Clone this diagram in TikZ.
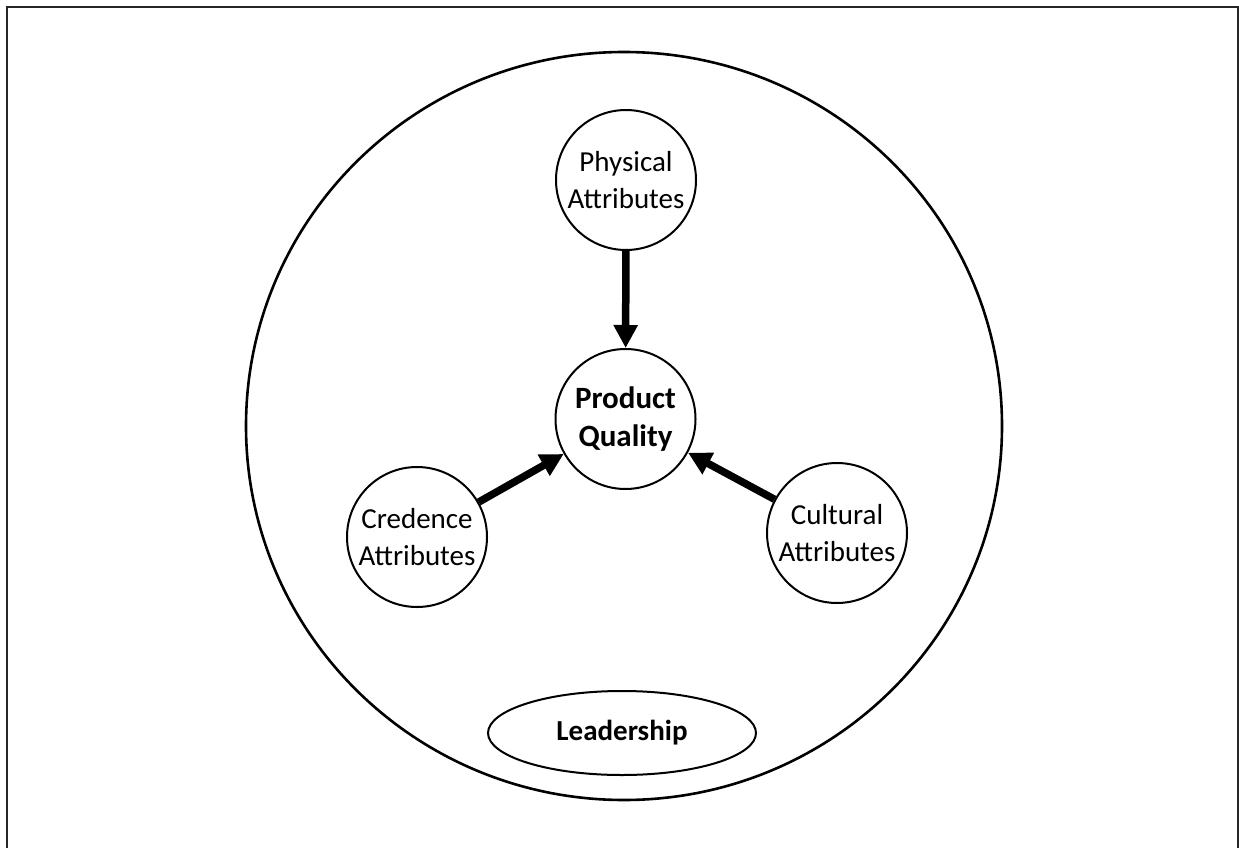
\documentclass[tikz,border=0pt]{standalone}
\usepackage{fontspec}
\setmainfont{Carlito}
\usetikzlibrary{arrows.meta,shapes.geometric}
\tikzset{
  attr/.style={circle,draw=black,line width=2pt,minimum size=140pt,inner sep=0pt,align=center,
    font=\fontsize{29}{36.5}\selectfont},
  center/.style={attr,font=\bfseries\fontsize{31}{38}\selectfont},
  lead/.style={ellipse,draw=black,line width=2pt,minimum width=268pt,minimum height=84pt,inner sep=0pt,
    font=\bfseries\fontsize{29}{36}\selectfont},
  outerc/.style={ellipse,draw=black,line width=2.6pt,minimum width=756pt,minimum height=748pt,inner sep=0pt},
  arr/.style={line width=7.5pt,-{Triangle[width=23pt,length=23pt]}},
  frame/.style={line width=2.6pt,draw=black!85}
}
\begin{document}
\begin{tikzpicture}[x=1pt,y=-1pt]
\useasboundingbox (0,0) rectangle (1239,848);
\draw[frame] (7,850) -- (7,7) -- (1238,7) -- (1238,850);
\node[outerc] (outer) at (624,426) {};
\node[attr] (phys) at (626,180) {Physical\\Attributes};
\node[center] (pq) at (625.5,419) {Product\\Quality};
\node[attr] (cred) at (417,537) {Credence\\Attributes};
\node[attr] (cult) at (837,533) {Cultural\\Attributes};
\node[lead] (lead) at (622,733) {Leadership};
\draw[arr] (phys) -- (pq);
\draw[arr] (cred) -- (pq);
\draw[arr] (cult) -- (pq);
\end{tikzpicture}
\end{document}
